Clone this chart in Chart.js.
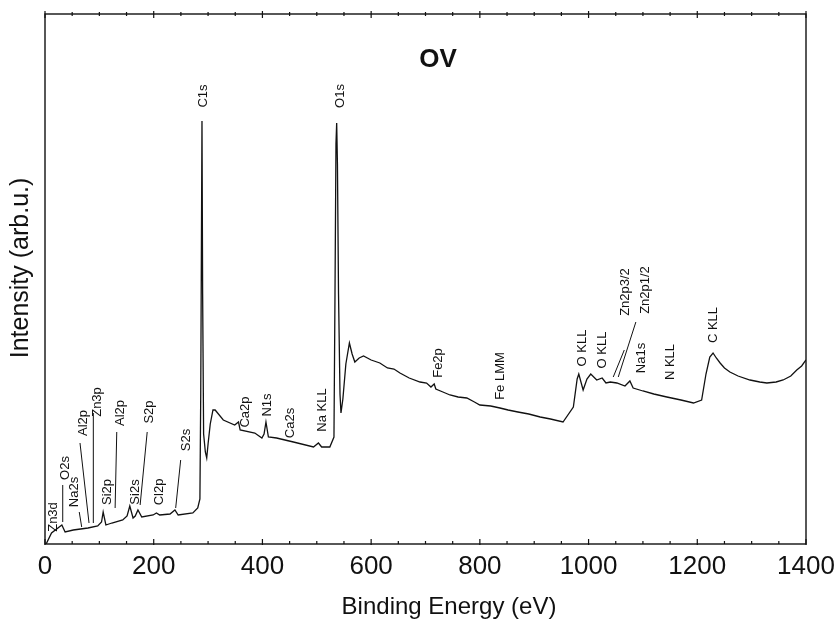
<!DOCTYPE html>
<html>
<head>
<meta charset="utf-8">
<script src="https://cdn.jsdelivr.net/npm/chart.js@4/dist/chart.umd.min.js"></script>
<style>
  html, body { margin: 0; padding: 0; background: #fff; }
  #wrap { width: 837px; height: 622px; }
</style>
</head>
<body>
<div id="wrap"><canvas id="xps" width="837" height="622"></canvas></div>
<script>
// survey spectrum (binding energy in eV, intensity in arb. units)
const energy = [
  0, 3, 12, 31, 37, 52, 79, 97, 104, 107, 112, 123, 143, 151, 156, 162, 166, 171, 178,
  199, 205, 211, 230, 239, 245, 272, 281, 285, 286.5, 288.8, 290, 291.8, 295, 297.5,
  300, 304, 309, 313, 328, 349, 356, 359, 386, 399, 403, 406.5, 411, 426, 457, 494, 503, 509,
  524, 531.6, 533.5, 535.3, 536.6, 538, 540, 542.7, 544.5, 548, 553.5, 560, 565, 570,
  578, 586, 600, 616, 630, 642, 653, 670, 690, 702, 710, 716, 719, 732, 745, 760, 776,
  790, 800, 820, 837, 852, 870, 890, 911, 930, 953, 972, 979, 982, 990,
  997, 1004, 1015, 1025, 1032, 1040, 1052, 1067, 1076, 1082, 1100, 1120, 1144, 1170,
  1193, 1208, 1216, 1223, 1229, 1235, 1242, 1250, 1260, 1275, 1297, 1315, 1328, 1345,
  1358, 1372, 1383, 1392, 1400
];
const intensity = [
  0, 1, 11, 19, 12, 14, 16, 18, 22, 32, 19, 21, 24, 28, 38, 26, 28, 34, 27,
  29, 31, 29, 30, 34, 29, 31, 36, 45, 150, 423, 250, 110, 92, 86,
  100, 120, 134, 134, 124, 119, 122, 114, 111, 106, 110, 122, 107, 106, 102, 97, 101, 97,
  97, 107, 250, 400, 421, 380, 250, 150, 131, 145, 180, 201, 190, 182,
  186, 188, 184, 181, 176, 175, 171, 166, 162, 161, 157, 160, 155, 152, 149, 147, 146,
  142, 139, 138, 136, 134, 132, 130, 127, 125, 122, 137, 165, 170, 154,
  165, 170, 164, 166, 161, 162, 161, 158, 163, 156, 153, 150, 147, 144,
  141, 144, 170, 187, 191, 186, 181, 176, 172, 168, 164, 162, 161, 162,
  164, 168, 174, 178, 184
];

// x ticks
const majorTicks = [0, 200, 400, 600, 800, 1000, 1200, 1400];
const minorTicks = [50, 100, 150, 250, 300, 350, 450, 500, 550, 650, 700, 750, 850, 900, 950,
  1050, 1100, 1150, 1250, 1300, 1350];

// peak labels: text, energy, intensity of label centre
const peakNames = ['C1s', 'O1s', 'Ca2p', 'N1s', 'Ca2s', 'Na KLL', 'Fe2p', 'Fe LMM', 'O KLL', 'O KLL',
  'Zn2p3/2', 'Zn2p1/2', 'Na1s', 'N KLL', 'C KLL', 'Zn3d', 'O2s', 'Na2s', 'Al2p', 'Zn3p',
  'Si2p', 'Al2p', 'Si2s', 'S2p', 'Cl2p', 'S2s'];
const peakLabelE = [291, 543, 368, 410, 451, 510, 723, 837, 988, 1025,
  1067, 1104, 1098, 1150, 1229, 15, 37, 55, 70, 97,
  114, 138, 166, 193, 211, 261];
const peakLabelI = [448, 448, 132, 139, 121, 134, 181, 168, 196, 194,
  252, 254, 186, 182, 219, 27, 76, 52, 121, 142,
  52, 131, 52, 132, 52, 104];

// leader lines from labels to peaks: [e1, i1, e2, i2]
const leaders = [
  [32.6, 59, 32.6, 22],
  [63, 32, 67.5, 17],
  [64.4, 101, 81, 21],
  [88.9, 131, 88.9, 21],
  [132, 112, 129, 36],
  [188, 112, 175, 39],
  [249.6, 84, 240.4, 36],
  [1065.7, 194, 1045.4, 167],
  [1087, 222, 1054.6, 167]
];

const chartTitle = 'OV';
const xTitle = 'Binding Energy (eV)';
const yTitle = 'Intensity (arb.u.)';
const axisFont = '"Liberation Sans Narrow", "Liberation Sans", Arial, sans-serif';

const frameAndLabels = {
  id: 'frameAndLabels',
  afterDatasetsDraw(chart) {
    const { ctx, chartArea: a, scales: { x, y } } = chart;
    ctx.save();
    ctx.strokeStyle = '#111';
    ctx.lineWidth = 1.4;
    ctx.strokeRect(a.left, a.top, a.right - a.left, a.bottom - a.top);

    // tick marks top & bottom
    ctx.lineWidth = 1.2;
    ctx.beginPath();
    majorTicks.forEach(v => {
      const px = x.getPixelForValue(v);
      ctx.moveTo(px, a.bottom + 1); ctx.lineTo(px, a.bottom - 5);
      ctx.moveTo(px, a.top - 3); ctx.lineTo(px, a.top + 4);
    });
    minorTicks.forEach(v => {
      const px = x.getPixelForValue(v);
      ctx.moveTo(px, a.bottom); ctx.lineTo(px, a.bottom - 3);
      ctx.moveTo(px, a.top - 2); ctx.lineTo(px, a.top + 2);
    });
    ctx.stroke();

    // leader lines
    ctx.lineWidth = 1;
    ctx.beginPath();
    leaders.forEach(l => {
      ctx.moveTo(x.getPixelForValue(l[0]), y.getPixelForValue(l[1]));
      ctx.lineTo(x.getPixelForValue(l[2]), y.getPixelForValue(l[3]));
    });
    ctx.stroke();

    // rotated peak labels
    ctx.fillStyle = '#111';
    ctx.font = '13px "Liberation Sans", Arial, sans-serif';
    ctx.textAlign = 'center';
    ctx.textBaseline = 'middle';
    peakNames.forEach((t, i) => {
      ctx.save();
      ctx.translate(x.getPixelForValue(peakLabelE[i]), y.getPixelForValue(peakLabelI[i]));
      ctx.rotate(-Math.PI / 2);
      ctx.fillText(t, 0, 0);
      ctx.restore();
    });

    // axis titles sit a little off-centre in the original
    ctx.font = '25px ' + axisFont;
    ctx.save();
    ctx.translate(21, 268);
    ctx.rotate(-Math.PI / 2);
    ctx.fillText(yTitle, 0, 0);
    ctx.restore();
    ctx.font = '24px ' + axisFont;
    ctx.fillText(xTitle, 449, 607);

    // sample name
    ctx.font = 'bold 26px "Liberation Sans", Arial, sans-serif';
    ctx.fillText(chartTitle, x.getPixelForValue(723), y.getPixelForValue(484));
    ctx.restore();
  }
};

new Chart(document.getElementById('xps'), {
  type: 'line',
  data: {
    datasets: [{
      data: energy.map((e, i) => ({ x: e, y: intensity[i] })),
      borderColor: '#111',
      borderWidth: 1.3,
      pointRadius: 0,
      tension: 0,
      fill: false
    }]
  },
  options: {
    responsive: false,
    animation: false,
    layout: { padding: { top: 14, right: 31, left: 0, bottom: 0 } },
    plugins: { legend: { display: false }, tooltip: { enabled: false } },
    scales: {
      x: {
        type: 'linear',
        min: 0,
        max: 1400,
        afterFit(s) {
          s.height = 78;
          s.paddingLeft = 0;
          s.paddingRight = 0;
        },
        afterBuildTicks(s) { s.ticks = majorTicks.map(v => ({ value: v })); },
        grid: { display: false, drawTicks: false },
        border: { display: false },
        ticks: {
          color: '#111',
          padding: 7,
          maxRotation: 0,
          callback: v => String(v),
          font: { family: axisFont, size: 26 }
        },
        title: { display: false }
      },
      y: {
        min: 0,
        max: 530,
        afterFit(s) { s.width = 45; },
        grid: { display: false },
        border: { display: false },
        ticks: { display: false },
        title: { display: false }
      }
    }
  },
  plugins: [frameAndLabels]
});
</script>
</body>
</html>
